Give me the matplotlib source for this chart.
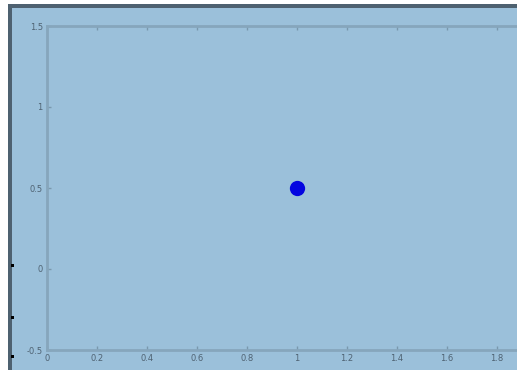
import matplotlib
matplotlib.use('Agg')
import matplotlib.pyplot as plt
from matplotlib.patches import Rectangle

# single sample point
x_vals = [1]
y_vals = [0.5]

x_ticks = [0, 0.2, 0.4, 0.6, 0.8, 1, 1.2, 1.4, 1.6, 1.8]
x_labels = ['0', '0.2', '0.4', '0.6', '0.8', '1', '1.2', '1.4', '1.6', '1.8']
y_ticks = [-0.5, 0, 0.5, 1, 1.5]
y_labels = ['-0.5', '0', '0.5', '1', '1.5']

bg = '#9bc0da'
W, H = 517, 370

fig = plt.figure(figsize=(W / 100, H / 100), dpi=100, facecolor=bg)

# window frame: white strip + dark edge on top and left
fig.add_artist(Rectangle((0, 1 - 4 / H), 1, 4 / H, transform=fig.transFigure,
                         facecolor='white', edgecolor='none'))
fig.add_artist(Rectangle((0, 0), 8 / W, 1, transform=fig.transFigure,
                         facecolor='white', edgecolor='none'))
fig.add_artist(Rectangle((8 / W, 1 - 8 / H), 1, 4 / H, transform=fig.transFigure,
                         facecolor='#4e6170', edgecolor='none'))
fig.add_artist(Rectangle((8 / W, 0), 4 / W, 1 - 4 / H, transform=fig.transFigure,
                         facecolor='#4e6170', edgecolor='none'))
for yy in [103, 51, 12]:
    fig.add_artist(Rectangle((11 / W, yy / H), 3 / W, 3 / H, transform=fig.transFigure,
                             facecolor='black', edgecolor='none'))

ax = fig.add_axes([47 / W, 1 - 350 / H, 500 / W, 324 / H])
ax.set_facecolor(bg)
ax.plot(x_vals, y_vals, 'o', color='#0505e0', markersize=11, markeredgewidth=0)

ax.set_xlim(0, 2)
ax.set_ylim(-0.5, 1.5)
ax.set_xticks(x_ticks)
ax.set_xticklabels(x_labels)
ax.set_yticks(y_ticks)
ax.set_yticklabels(y_labels)
ax.tick_params(direction='in', length=3, width=1, color='#7a98ad',
               labelsize=6, labelcolor='#4f6272', top=True, right=True, pad=3)
for s in ax.spines.values():
    s.set_color('#86a6bc')
    s.set_linewidth(2)

fig.savefig('out.png', dpi=100, facecolor=bg)
